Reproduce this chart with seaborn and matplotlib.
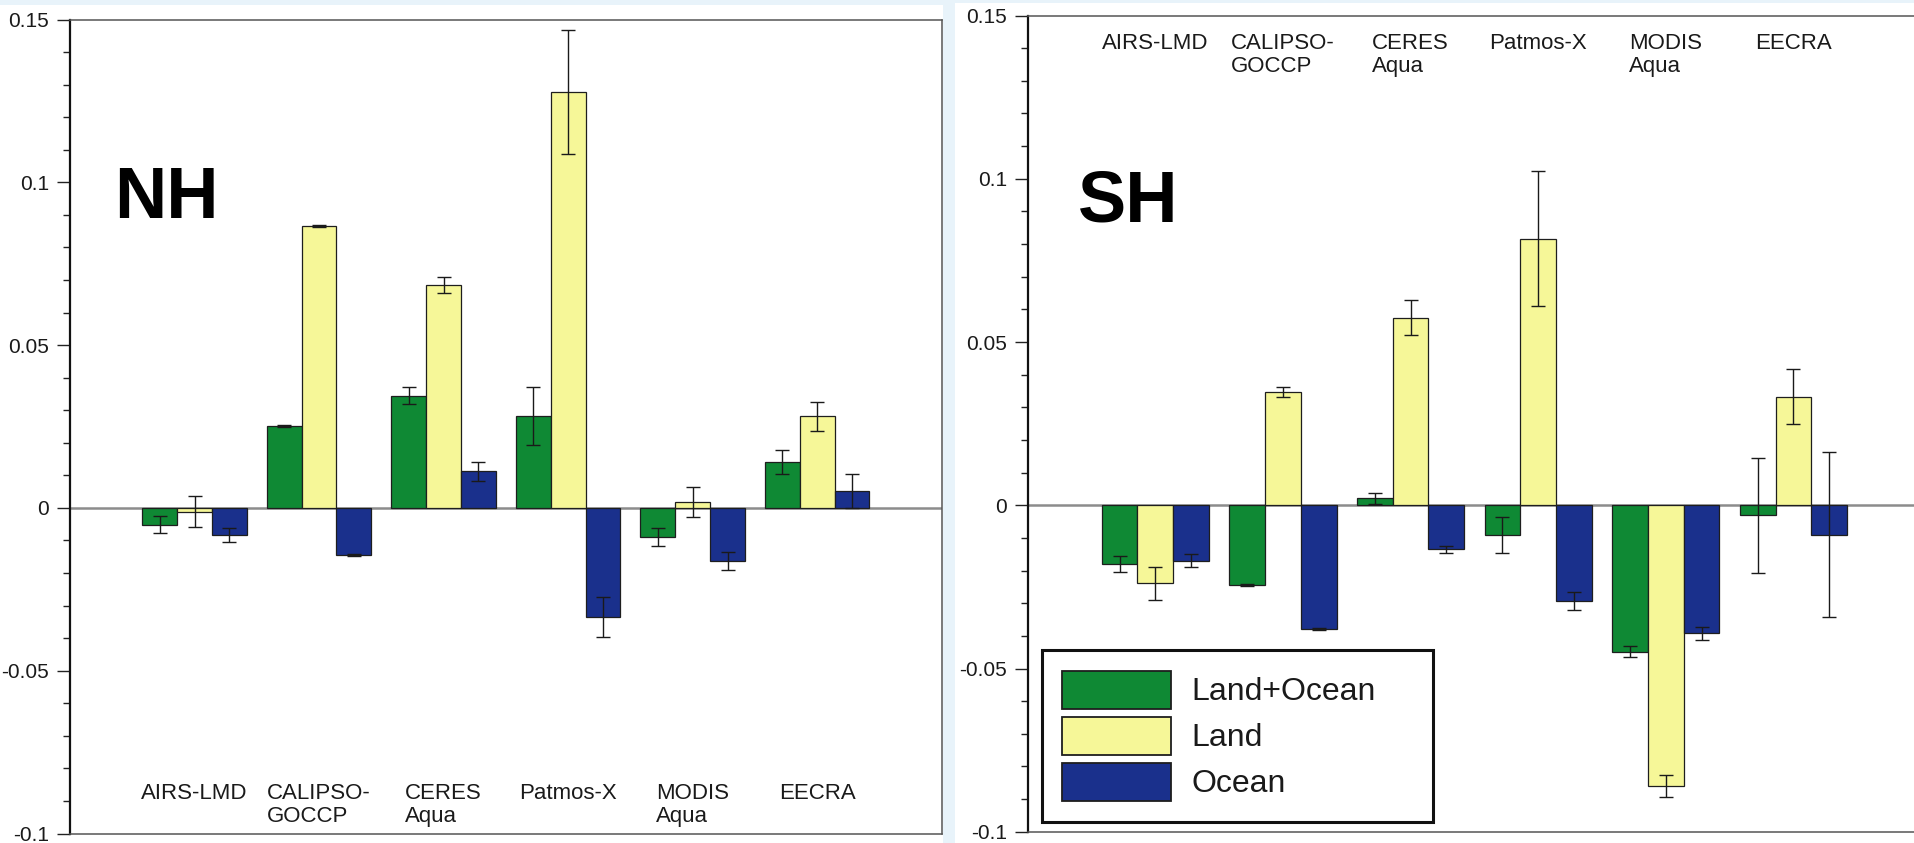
import numpy as np
import pandas as pd
import matplotlib
matplotlib.use("Agg")
import matplotlib.pyplot as plt
import seaborn as sns
from matplotlib.patches import Rectangle, Patch
from matplotlib.ticker import FixedLocator, MultipleLocator, FuncFormatter
from matplotlib import font_manager as fm

# ---------------- data ----------------
datasets = ["AIRS-LMD", "CALIPSO-\nGOCCP", "CERES\nAqua", "Patmos-X", "MODIS\nAqua", "EECRA"]
series = ["Land+Ocean", "Land", "Ocean"]

nh_land_ocean = [-0.0052, 0.0253, 0.0345, 0.0283, -0.0089, 0.0141]
nh_land       = [-0.0012, 0.0867, 0.0684, 0.1278, 0.0019, 0.0281]
nh_ocean      = [-0.0083, -0.0145, 0.0112, -0.0336, -0.0163, 0.0051]
nh_land_ocean_err = [0.0026, 0.0003, 0.0025, 0.0089, 0.0028, 0.0037]
nh_land_err       = [0.0048, 0.0003, 0.0024, 0.0191, 0.0046, 0.0045]
nh_ocean_err      = [0.0021, 0.0003, 0.0029, 0.0061, 0.0027, 0.0052]

sh_land_ocean = [-0.0179, -0.0243, 0.0021, -0.0092, -0.0448, -0.0031]
sh_land       = [-0.0239, 0.0347, 0.0575, 0.0817, -0.0859, 0.0332]
sh_ocean      = [-0.0170, -0.0379, -0.0135, -0.0294, -0.0392, -0.0090]
sh_land_ocean_err = [0.0025, 0.0003, 0.0018, 0.0055, 0.0017, 0.0175]
sh_land_err       = [0.0051, 0.0015, 0.0055, 0.0206, 0.0033, 0.0084]
sh_ocean_err      = [0.0020, 0.0003, 0.0011, 0.0027, 0.0020, 0.0252]

y_ticks = [-0.1, -0.05, 0, 0.05, 0.1, 0.15]

colors = ["#0f8934", "#f6f798", "#1a308c"]

# ---------------- style ----------------
sns.set_theme(style="white")
avail = {f.name for f in fm.fontManager.ttflist}
base_family = "Liberation Sans" if "Liberation Sans" in avail else "DejaVu Sans"
narrow = "Liberation Sans Narrow" in avail
plt.rcParams["font.family"] = [base_family, "DejaVu Sans"]

W, H = 1915, 843
fig = plt.figure(figsize=(W / 100, H / 100), dpi=100)
fig.patch.set_facecolor("#e8f3fa")
fig.patches.append(Rectangle((0, 0), 943 / W, 1 - 5 / H, transform=fig.transFigure,
                             facecolor="white", edgecolor="none", zorder=-10))
fig.patches.append(Rectangle((955 / W, 0), 1, 1 - 3 / H, transform=fig.transFigure,
                             facecolor="white", edgecolor="none", zorder=-10))


def px_axes(x0, x1, ytop, ybot):
    return fig.add_axes([x0 / W, 1 - ybot / H, (x1 - x0) / W, (ybot - ytop) / H])


axL = px_axes(70, 941.7, 19.5, 833.5)
axR = px_axes(1027.7, 1921.0, 15.5, 831.8)


def make_df(lo, la, oc):
    rows = []
    for s, vals in zip(series, [lo, la, oc]):
        for d, v in zip(datasets, vals):
            rows.append({"dataset": d, "series": s, "value": v})
    return pd.DataFrame(rows)


def draw(ax, df, errs, label, label_xy, cat_top):
    ax.set_facecolor("none")
    ax.axhline(0, color="#8c8c8c", lw=1.8, zorder=0.5)
    sns.barplot(data=df, x="dataset", y="value", hue="series", order=datasets,
                hue_order=series, palette=colors, errorbar=None, width=0.84,
                edgecolor="#1e1e1e", linewidth=0.9, legend=False, ax=ax, zorder=2,
                saturation=1)
    for cont, err, s in zip(ax.containers, errs, series):
        xs = [p.get_x() + p.get_width() / 2 for p in cont.patches]
        ys = df[df["series"] == s].set_index("dataset").loc[datasets, "value"].values
        ax.errorbar(xs, ys, yerr=err, fmt="none", ecolor="#1a1a1a", elinewidth=1.0,
                    capsize=5.2, capthick=1.0, zorder=3)
    ax.set_xlim(-1, 6)
    ax.set_ylim(-0.1, 0.15)
    ax.set_xlabel("")
    ax.set_ylabel("")
    ax.set_xticks([])
    ax.yaxis.set_major_locator(FixedLocator(y_ticks))
    ax.yaxis.set_minor_locator(MultipleLocator(0.01))
    ax.yaxis.set_major_formatter(FuncFormatter(lambda v, p: "%g" % round(v, 4)))
    ax.tick_params(axis="y", which="major", direction="out", length=9.5, width=1.0,
                   color="#222222", labelsize=15, pad=5.5, labelcolor="#1a1a1a", left=True)
    ax.tick_params(axis="y", which="minor", direction="out", length=5, width=1.0,
                   color="#222222", left=True)
    ax.spines["left"].set_color("#111111")
    ax.spines["left"].set_linewidth(1.6)
    for sp in ["top", "bottom", "right"]:
        ax.spines[sp].set_color("#555555")
        ax.spines[sp].set_linewidth(1.1)
    ax.grid(False)
    # category labels
    for i, d in enumerate(datasets):
        ax.text(i, cat_top, d, transform=ax.get_xaxis_transform(), ha="center", va="top",
                multialignment="left", fontsize=16, color="#1a1a1a", linespacing=1.1)
    ax.text(label_xy[0], label_xy[1], label, transform=fig.transFigure, ha="left",
            va="baseline", fontsize=52, fontweight="bold", color="black")


draw(axL, make_df(nh_land_ocean, nh_land, nh_ocean),
     [nh_land_ocean_err, nh_land_err, nh_ocean_err], "NH",
     (114 / W, 1 - 218 / H), (833.5 - 783) / 814.0)
draw(axR, make_df(sh_land_ocean, sh_land, sh_ocean),
     [sh_land_ocean_err, sh_land_err, sh_ocean_err], "SH",
     (1078 / W, 1 - 222 / H), 1 - (33 - 15.5) / 816.3)

# legend
leg_family = "Liberation Sans Narrow" if narrow else base_family
leg_size = 28 if narrow else 23
F = leg_size * 100 / 72
patch_h = 37.7
hh = (patch_h / F - 0.245) / 0.65
handles = [Patch(facecolor=c, edgecolor="#1e1e1e", linewidth=1.3) for c in colors]
leg = axR.legend(handles, series, loc="upper left",
                 bbox_to_anchor=(1041.7 / W, 1 - 650 / H, (1433.3 - 1041.7) / W, 0),
                 bbox_transform=fig.transFigure, mode="expand", borderaxespad=0,
                 borderpad=20.8 / F, handlelength=109 / F, handleheight=hh,
                 handletextpad=20 / F, labelspacing=8.4 / F, frameon=True, fancybox=False,
                 edgecolor="#111111", framealpha=1,
                 prop={"family": leg_family, "size": leg_size})
leg.get_frame().set_linewidth(2.2)
for t in leg.get_texts():
    t.set_color("#1a1a1a")

fig.savefig("out.png", dpi=100, facecolor=fig.get_facecolor())
